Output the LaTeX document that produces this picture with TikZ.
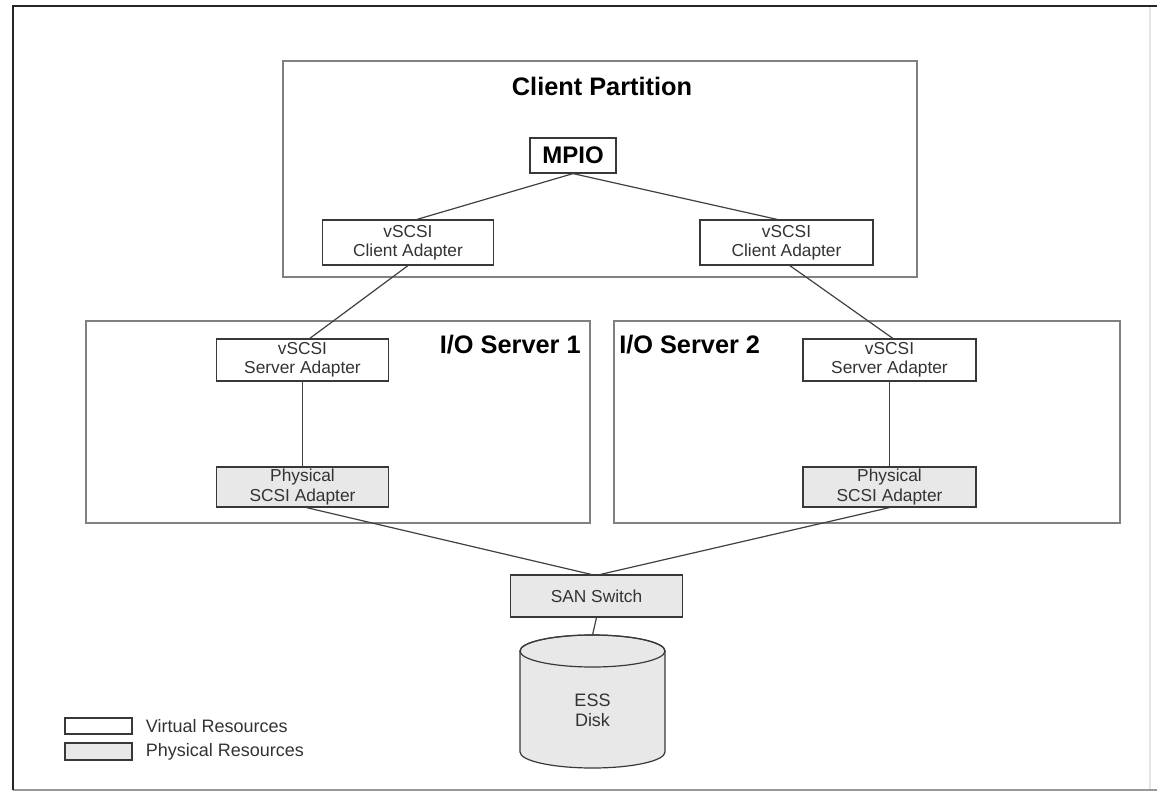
\documentclass[tikz,border=0pt]{standalone}
\usepackage{fontspec}
\setmainfont{Liberation Sans}
\usetikzlibrary{positioning}

\begin{document}
\begin{tikzpicture}[
  x=0.75pt, y=-0.75pt,
  part/.style={rectangle, draw=black!50, line width=1.1pt, inner sep=0pt},
  box/.style={rectangle, draw=black!78, line width=0.9pt, align=center, inner sep=0pt, minimum width=128.5pt, minimum height=31.5pt, font=\fontsize{13}{14.5}\selectfont, text=black!80},
  virt/.style={box, fill=white},
  phys/.style={box, fill=black!9},
  ptitle/.style={font=\fontsize{19}{21}\selectfont\bfseries, inner sep=0pt},
  conn/.style={draw=black!75, line width=0.9pt},
  ltext/.style={font=\fontsize{13.5}{15}\selectfont, text=black!80, inner sep=0pt}
]
\useasboundingbox (0,0) rectangle (1157,792);
% outer frame
\draw[black!10, line width=0.8pt] (1150,6) -- (1150,790);
\draw[black!40, line width=1.2pt] (13,790) -- (1157,790);
\draw[black!85, line width=2.2pt] (1157,6) -- (13,6) -- (13,790);

% partitions
\node[part, minimum width=475.5pt, minimum height=162pt] (client) at (600,169) {};
\node[ptitle] (clienttitle) at (602,86) {Client Partition};
\node[part, minimum width=378pt, minimum height=151.5pt] (ios1) at (338,422) {};
\node[ptitle, anchor=east] (ios1title) at (581,345) {I/O Server 1};
\node[part, minimum width=379.5pt, minimum height=151.5pt] (ios2) at (867,422) {};
\node[ptitle, anchor=west] (ios2title) at (619,345) {I/O Server 2};

% adapters
\node[virt, font=\fontsize{18}{20}\selectfont\bfseries, text=black, minimum width=64.5pt, minimum height=26.25pt] (mpio) at (573,155.5) {MPIO};
\node[virt, minimum height=33.75pt] (vcl) at (408,242.5) {vSCSI\\Client Adapter};
\node[virt, minimum width=129.75pt, minimum height=33.75pt] (vcr) at (786.5,242.5) {vSCSI\\Client Adapter};
\node[virt] (vsa1) at (302.5,360) {vSCSI\\Server Adapter};
\node[phys, minimum height=30pt] (psa1) at (302.5,487) {Physical\\SCSI Adapter};
\node[virt, minimum width=129.75pt] (vsa2) at (889.5,360) {vSCSI\\Server Adapter};
\node[phys, minimum width=129.75pt, minimum height=30pt] (psa2) at (889.5,487) {Physical\\SCSI Adapter};
\node[phys] (san) at (596.5,596) {SAN Switch};

% disk
\filldraw[fill=black!9, draw=black!78, line width=0.9pt] (520,752) arc[start angle=180, end angle=360, x radius=54.375pt, y radius=12pt] -- (665,651) arc[start angle=0, end angle=180, x radius=54.375pt, y radius=12pt] -- cycle;
\draw[black!78, line width=0.9pt] (592.5,651) ellipse[x radius=54.375pt, y radius=12pt];
\coordinate (disktop) at (592.5,635);
\node[ltext, align=center, font=\fontsize{13.5}{15}\selectfont] (disk) at (592.5,710) {ESS\\Disk};

% legend
\node[virt, minimum width=50.25pt, minimum height=12pt] (legvirt) at (98.5,726) {};
\node[ltext, right=9.75pt of legvirt] (legvirttext) {Virtual Resources};
\node[phys, minimum width=50.25pt, minimum height=12.75pt] (legphys) at (98.5,751.5) {};
\node[ltext, right=9.75pt of legphys] (legphystext) {Physical Resources};

% connectors
\draw[conn] (mpio.south) -- ([xshift=6.75pt]vcl.north);
\draw[conn] (mpio.south) -- ([xshift=-7pt]vcr.north);
\draw[conn] (vcl.south) -- ([xshift=5.5pt]vsa1.north);
\draw[conn] ([xshift=2.5pt]vcr.south) -- ([xshift=2.5pt]vsa2.north);
\draw[conn] (vsa1) -- (psa1);
\draw[conn] (vsa2) -- (psa2);
\draw[conn] ([xshift=3pt]psa1.south) -- ([xshift=-4pt]san.north);
\draw[conn] (psa2.south) -- ([xshift=3pt]san.north);
\draw[conn] (san.south) -- (disktop);
\end{tikzpicture}
\end{document}
